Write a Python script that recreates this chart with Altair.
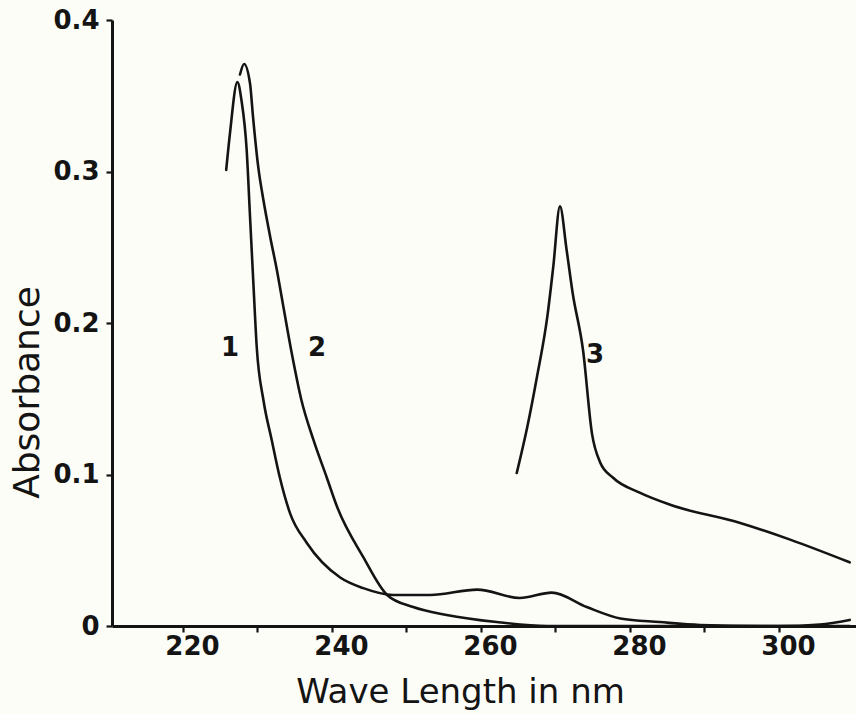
import altair as alt
import pandas as pd

# ---- data ----
c1_nm = [225.8, 226.3, 227.3, 227.85, 228.55, 229.0, 229.45, 229.9, 230.8, 231.9, 233.0,
         234.4, 236.6, 241.1, 244.2, 248.2, 253.2, 259.5, 265.2, 269.5, 274.2, 278.7,
         284.0, 289.4, 300.1, 305.5, 309.5]
c1_abs = [0.301, 0.325, 0.359, 0.347, 0.314, 0.270, 0.226, 0.184, 0.149, 0.123, 0.098,
          0.074, 0.055, 0.032, 0.025, 0.0205, 0.0205, 0.024, 0.0185, 0.022, 0.0125, 0.005,
          0.0026, 0.0007, 0.0, 0.001, 0.004]

c2_nm = [227.65, 228.2, 229.0, 229.4, 230.1, 230.8, 231.7, 232.6, 233.5, 234.6, 235.9,
         237.5, 239.3, 240.7, 244.2, 247.4, 250.9, 255.4, 262.1, 268.9, 280.0, 295.0, 309.5]
c2_abs = [0.364, 0.371, 0.358, 0.336, 0.303, 0.281, 0.257, 0.235, 0.210, 0.180, 0.149,
          0.123, 0.098, 0.0785, 0.0455, 0.0205, 0.0125, 0.0073, 0.0026, 0.0, 0.0, 0.0, 0.0]

c3_nm = [264.8, 266.2, 267.5, 268.9, 269.7, 270.6, 271.5, 272.3, 273.7, 274.9, 276.0,
         277.7, 281.3, 285.4, 294.8, 301.5, 309.5]
c3_abs = [0.101, 0.131, 0.164, 0.204, 0.237, 0.277, 0.248, 0.220, 0.182, 0.127, 0.108,
          0.098, 0.088, 0.080, 0.068, 0.057, 0.042]

curve_labels = ["1", "2", "3"]
label_nm = [226.3, 238.0, 275.3]
label_abs = [0.1835, 0.1835, 0.179]

x_tick_values = [220, 230, 240, 250, 260, 270, 280, 290, 300]
y_tick_values = [0, 0.1, 0.2, 0.3, 0.4]

x_domain = [210.47, 310.34]
y_domain = [0, 0.4]

# ---- tables ----
rows = []
for name, xs, ys in [("1", c1_nm, c1_abs), ("2", c2_nm, c2_abs), ("3", c3_nm, c3_abs)]:
    for i, (a, b) in enumerate(zip(xs, ys)):
        rows.append({"curve": name, "nm": a, "val": b, "order": i})
curves = pd.DataFrame(rows)
labels = pd.DataFrame({"label": curve_labels, "nm": label_nm, "val": label_abs})

FONT = "DejaVu Sans"
INK = "#141414"

x_scale = alt.Scale(domain=x_domain, nice=False, zero=False)
y_scale = alt.Scale(domain=y_domain, nice=False)

x_axis = alt.Axis(
    values=x_tick_values, grid=False,
    labelExpr="datum.value % 20 == 0 ? format(datum.value, 'd') : ''",
    ticks=True, tickSize=6, tickWidth=2.2, tickColor=INK,
    domainColor=INK, domainWidth=3,
    labelFont=FONT, labelFontSize=26, labelFontWeight="bold", labelColor=INK,
    labelPadding=1, labelOffset=9, labelFlush=False,
    title="Wave Length in nm", titleFont=FONT, titleFontSize=34, titleFontWeight="normal",
    titleColor=INK, titleX=348, titleY=76, titleAlign="center", titleBaseline="alphabetic",
    titleAnchor="start",
)
y_axis = alt.Axis(
    values=y_tick_values, grid=False,
    labelExpr="datum.value == 0 ? '0' : format(datum.value, '.1f')",
    ticks=True, tickSize=6, tickWidth=2.2, tickColor=INK,
    domainColor=INK, domainWidth=3,
    labelFont=FONT, labelFontSize=26, labelFontWeight="bold", labelColor=INK,
    labelPadding=7, labelFlush=False,
    title="Absorbance", titleFont=FONT, titleFontSize=36, titleFontWeight="normal",
    titleColor=INK, titleAngle=270, titleX=-74, titleY=372, titleAlign="center",
    titleBaseline="alphabetic", titleAnchor="start",
)

lines = alt.Chart(curves).mark_line(
    color=INK, strokeWidth=2.6, strokeJoin="round", strokeCap="round", interpolate="monotone"
).encode(
    x=alt.X("nm:Q", scale=x_scale, axis=x_axis),
    y=alt.Y("val:Q", scale=y_scale, axis=y_axis),
    detail="curve:N", order="order:Q",
)

text = alt.Chart(labels).mark_text(
    font=FONT, fontSize=26, fontWeight="bold", color=INK, align="center", baseline="middle"
).encode(x=alt.X("nm:Q"), y=alt.Y("val:Q"), text="label:N")

chart = alt.layer(lines, text).properties(
    width=744, height=606,
    autosize=alt.AutoSizeParams(type="none"),
    padding={"left": 112, "top": 20, "right": 0, "bottom": 88},
    background="#fdfdf8",
).configure_view(stroke=None)

chart.save("out.html", embed_options={"renderer": "svg", "actions": False})
